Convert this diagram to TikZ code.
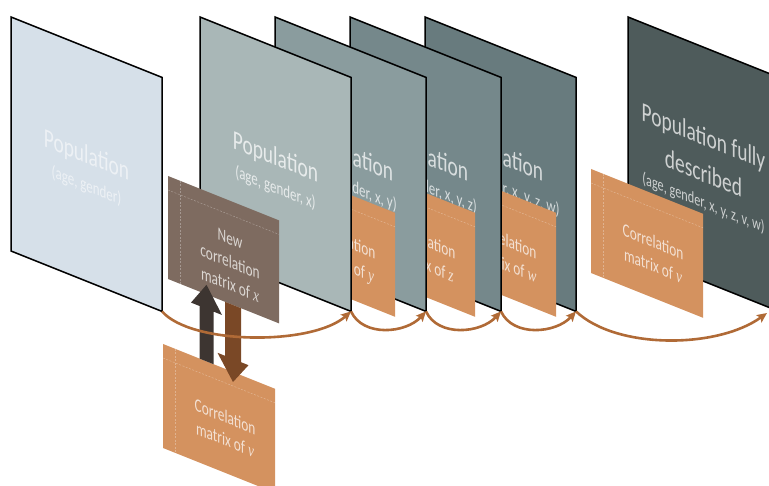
\documentclass[tikz,border=0pt]{standalone}
\usepackage{fontspec}
\setmainfont{Carlito}
% text lying in the slanted planes: xscale 0.72 then yslant -0.4, decomposed as
% rotate(-21.8) * xslant(-0.4) * scale(0.7755, 0.9285)
\newfontfamily\slfont{Carlito}[FakeSlant=-0.4,FakeStretch=0.835]
\newfontfamily\slvar{Liberation Serif}[FakeSlant=-0.4,FakeStretch=0.835]
\newcommand{\vr}[1]{{\slvar\itshape #1}}
\usetikzlibrary{arrows.meta}
\definecolor{panelA}{HTML}{D6E0E9}
\definecolor{panelB}{HTML}{A9B7B7}
\definecolor{panelC}{HTML}{8A9C9E}
\definecolor{panelD}{HTML}{75888B}
\definecolor{panelE}{HTML}{687B7E}
\definecolor{panelF}{HTML}{4E5B5B}
\definecolor{cardO}{HTML}{D4925F}
\definecolor{cardB}{HTML}{7E6B60}
\definecolor{arrUp}{HTML}{3D3531}
\definecolor{arrDn}{HTML}{7A4826}
\definecolor{flowc}{HTML}{B06A36}
% #1 position, #2 style, #3 name, #4 font size, #5 text
\newcommand{\sltext}[5]{%
  \node[#2] (#3) at #1 {\slfont\fontsize{#4}{#4}\selectfont #5};}
\begin{document}
\begin{tikzpicture}[x=1pt,y=-1pt,
  sl/.style={shift={#1},yslant=-0.4},
  panel/.style={draw=black,line width=1.5pt,line join=miter},
  ptext/.style={rotate=-21.8,anchor=base,inner sep=0pt,text=white!72!#1},
  guide/.style={draw=white,draw opacity=0.3,line width=0.5pt,dash pattern=on 2pt off 1.5pt},
  flow/.style={draw=flowc,line width=2.6pt,-{Stealth[length=10pt,width=9pt,inset=2pt]}},
  uparr/.style={fill=arrUp},
  dnarr/.style={fill=arrDn}
]
\path[use as bounding box] (0,0) rectangle (769,486);
\clip (0,0) rectangle (769,486);

% panel 6 (fully described)
\begin{scope}[sl={(628,17)}]
  \path[panel,fill=panelF] (0,0) rectangle (151,234);
  \sltext{(75.5,98)}{ptext=panelF}{p6a}{25.1}{Population fully}
  \sltext{(75.5,135)}{ptext=panelF}{p6b}{25.1}{described}
  \sltext{(75.5,161)}{ptext=panelF}{p6c}{15.8}{(age, gender, x, y, z, v, w)}
\end{scope}
\coordinate (fullend) at (767,313);
% card v (right)
\begin{scope}[sl={(591,169)}]
  \fill[cardO] (0,0) rectangle (112,104);
  \draw[guide] (0,14) -- (112,14);
  \draw[guide] (12,0) -- (12,104);
  \sltext{(62,54)}{ptext=cardO}{cv1}{17.2}{Correlation}
  \sltext{(62,78)}{ptext=cardO}{cv2}{17.2}{matrix of \vr{v}}
\end{scope}

% panel 5
\begin{scope}[sl={(425,17)}]
  \path[panel,fill=panelE] (0,0) rectangle (151,234);
  \coordinate (p5br) at (151,234);
  \sltext{(75.5,117)}{ptext=panelE}{p5t}{25.1}{Population}
  \sltext{(75.5,145)}{ptext=panelE}{p5s}{16.7}{(age, gender, x, y, z, w)}
\end{scope}
\begin{scope}[sl={(444,168)}]
  \fill[cardO] (0,0) rectangle (112,104);
  \draw[guide] (0,14) -- (112,14);
  \draw[guide] (12,0) -- (12,104);
  \sltext{(62,54)}{ptext=cardO}{cw1}{17.2}{Correlation}
  \sltext{(62,78)}{ptext=cardO}{cw2}{17.2}{matrix of \vr{w}}
\end{scope}

% panel 4
\begin{scope}[sl={(350,17)}]
  \path[panel,fill=panelD] (0,0) rectangle (151,234);
  \coordinate (p4br) at (151,234);
  \sltext{(75.5,117)}{ptext=panelD}{p4t}{25.1}{Population}
  \sltext{(75.5,145)}{ptext=panelD}{p4s}{16.7}{(age, gender, x, y, z)}
\end{scope}
\begin{scope}[sl={(363,168)}]
  \fill[cardO] (0,0) rectangle (112,104);
  \draw[guide] (0,14) -- (112,14);
  \draw[guide] (12,0) -- (12,104);
  \sltext{(62,54)}{ptext=cardO}{cz1}{17.2}{Correlation}
  \sltext{(62,78)}{ptext=cardO}{cz2}{17.2}{matrix of \vr{z}}
\end{scope}

% panel 3
\begin{scope}[sl={(275,17)}]
  \path[panel,fill=panelC] (0,0) rectangle (151,234);
  \coordinate (p3br) at (151,234);
  \sltext{(75.5,117)}{ptext=panelC}{p3t}{25.1}{Population}
  \sltext{(75.5,145)}{ptext=panelC}{p3s}{16.7}{(age, gender, x, y)}
\end{scope}
\begin{scope}[sl={(283,168)}]
  \fill[cardO] (0,0) rectangle (112,104);
  \draw[guide] (0,14) -- (112,14);
  \draw[guide] (12,0) -- (12,104);
  \sltext{(62,54)}{ptext=cardO}{cy1}{17.2}{Correlation}
  \sltext{(62,78)}{ptext=cardO}{cy2}{17.2}{matrix of \vr{y}}
\end{scope}

% panel 2
\begin{scope}[sl={(200,17)}]
  \path[panel,fill=panelB] (0,0) rectangle (151,234);
  \coordinate (p2br) at (151,234);
  \sltext{(75.5,118)}{ptext=panelB}{p2t}{25.1}{Population}
  \sltext{(75.5,146)}{ptext=panelB}{p2s}{16.7}{(age, gender, x)}
\end{scope}

% panel 1
\begin{scope}[sl={(11,17)}]
  \path[panel,fill=panelA] (0,0) rectangle (151,234);
  \coordinate (p1br) at (151,234);
  \sltext{(75.5,116)}{ptext=panelA,text=white!55!panelA}{p1t}{25.1}{Population}
  \sltext{(75.5,144)}{ptext=panelA,text=white!55!panelA}{p1s}{16.7}{(age, gender)}
\end{scope}

% new correlation matrix of x
\begin{scope}[sl={(168,176)}]
  \fill[cardB] (0,0) rectangle (111,103);
  \draw[guide] (0,14) -- (111,14);
  \draw[guide] (12,0) -- (12,103);
  \sltext{(62,44)}{ptext=cardB}{cx1}{17.2}{New}
  \sltext{(62,67)}{ptext=cardB}{cx2}{17.2}{correlation}
  \sltext{(62,90)}{ptext=cardB}{cx3}{17.2}{matrix of \vr{x}}
\end{scope}

% lower card v and the two block arrows
\begin{scope}[sl={(163,344)}]
  \fill[cardO] (0,0) rectangle (112,104);
  \draw[guide] (0,14) -- (112,14);
  \draw[guide] (12,0) -- (12,104);
  \sltext{(62,54)}{ptext=cardO}{lv1}{17.2}{Correlation}
  \sltext{(62,77)}{ptext=cardO}{lv2}{17.2}{matrix of \vr{v}}
  \coordinate (upfoot) at (43.5,0);
  \coordinate (uptip) at (43.5,-76.6);
  \coordinate (dntop) at (70,-67);
  \coordinate (dntip) at (70,10);
  \fill[uparr] (upfoot) ++(-7,0) -- ++(0,-52.6) -- ++(-8.5,0) -- (uptip)
     -- ++(15.5,24) -- ++(-8.5,0) -- ++(0,52.6) -- cycle;
  \fill[dnarr] (dntop) ++(-8,0) -- ++(0,54) -- ++(-7.5,0) -- (dntip)
     -- ++(15.5,-23) -- ++(-7.5,0) -- ++(0,-54) -- cycle;
\end{scope}

% flow connectors
\draw[flow] (p1br) .. controls +(30,34) and +(-38,34) .. (p2br);
\draw[flow] (p2br) .. controls +(12,26) and +(-20,22) .. (p3br);
\draw[flow] (p3br) .. controls +(12,26) and +(-20,22) .. (p4br);
\draw[flow] (p4br) .. controls +(12,26) and +(-20,22) .. (p5br);
\draw[flow] (p5br) .. controls +(40,38) and +(-50,36) .. (fullend);
\end{tikzpicture}
\end{document}
